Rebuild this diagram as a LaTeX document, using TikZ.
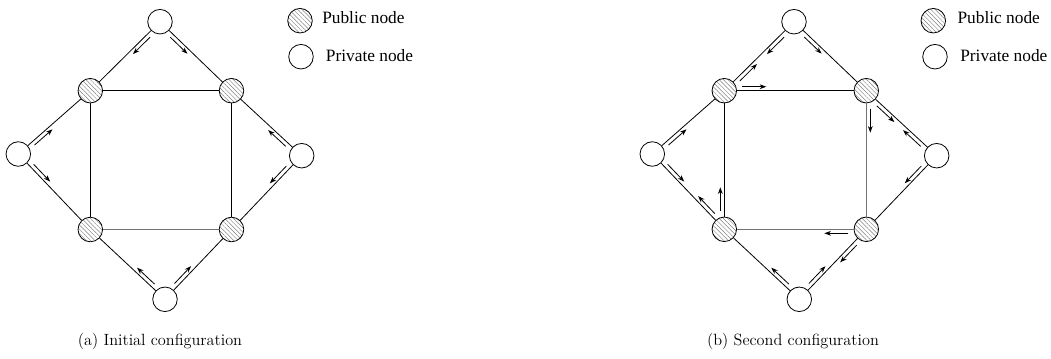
\documentclass[tikz,border=0pt]{standalone}
\usepackage{fontspec}
\newfontfamily\timesf{Liberation Serif}
\usetikzlibrary{calc,arrows.meta,patterns.meta}
\newcommand{\parr}[3]{\draw[arr] ($(#1)!13.5pt!(#2)!3pt!#3:(#2)$) -- ($(#1)!31.5pt!(#2)!3pt!#3:(#2)$);}
\begin{document}
\begin{tikzpicture}[x=0.75pt,y=-0.75pt,
  priv/.style={circle,draw,fill=white,minimum size=18.4pt,inner sep=0pt,line width=0.6pt},
  pub/.style={circle,draw,minimum size=18.4pt,inner sep=0pt,line width=0.6pt,
     pattern={Lines[angle=-45,distance=2.3pt,line width=0.35pt]},pattern color=gray},
  edge/.style={line width=0.6pt},
  gedge/.style={line width=1pt,draw=black!55},
  arr/.style={line width=0.6pt,-{Stealth[length=5pt,width=3.6pt]}},
  legend/.style={anchor=base west,inner sep=0pt,font=\timesf\fontsize{13}{15}\selectfont},
  caption/.style={anchor=base,inner sep=0pt,font=\fontsize{12.2}{14}\selectfont}]
\useasboundingbox (0,0) rectangle (1051,358);
% ---------- panel (a) ----------
\node[priv] (aT) at (160,21.7) {};
\node[pub]  (aA) at (90.3,90.7) {};
\node[pub]  (aB) at (231.5,90.7) {};
\node[priv] (aL) at (18.3,154) {};
\node[priv] (aR) at (301.7,155.7) {};
\node[pub]  (aC) at (90.3,229.5) {};
\node[pub]  (aD) at (231.5,229.5) {};
\node[priv] (aM) at (165,299.3) {};
\draw[edge] (aT) -- (aA);
\draw[edge] (aT) -- (aB);
\draw[edge] (aA) -- (aB);
\draw[edge] (aA) -- (aC);
\draw[edge] (aB) -- (aD);
\draw[gedge] (aC) -- (aD);
\draw[edge] (aL) -- (aA);
\draw[edge] (aL) -- (aC);
\draw[edge] (aR) -- (aB);
\draw[edge] (aR) -- (aD);
\draw[edge] (aM) -- (aC);
\draw[edge] (aM) -- (aD);
\parr{aT}{aA}{90}
\parr{aT}{aB}{-90}
\parr{aL}{aA}{-90}
\parr{aL}{aC}{90}
\parr{aR}{aB}{90}
\parr{aR}{aD}{-90}
\parr{aM}{aC}{-90}
\parr{aM}{aD}{90}
\node[pub]  (aLP) at (300,20.7) {};
\node[priv] (aLQ) at (301,56.7) {};
\node[legend] (aLPt) at (322,23) {Public node};
\node[legend] (aLQt) at (325.7,61.5) {Private node};
\node[caption] (capa) at (160,345) {(a) Initial configuration};
% ---------- panel (b) ----------
\node[priv] (bT) at (794,21.7) {};
\node[pub]  (bA) at (724.3,90.7) {};
\node[pub]  (bB) at (866.3,90.7) {};
\node[priv] (bL) at (652.3,154) {};
\node[priv] (bR) at (936.7,155.7) {};
\node[pub]  (bC) at (724.3,229.3) {};
\node[pub]  (bD) at (866.3,229.3) {};
\node[priv] (bM) at (799.3,299.3) {};
\draw[edge] (bT) -- (bA);
\draw[edge] (bT) -- (bB);
\draw[edge] (bA) -- (bB);
\draw[edge] (bA) -- (bC);
\draw[gedge] (bB) -- (bD);
\draw[gedge] (bC) -- (bD);
\draw[edge] (bL) -- (bA);
\draw[edge] (bL) -- (bC);
\draw[edge] (bR) -- (bB);
\draw[edge] (bR) -- (bD);
\draw[edge] (bM) -- (bC);
\draw[edge] (bM) -- (bD);
\parr{bT}{bA}{90}
\parr{bA}{bT}{-90}
\parr{bT}{bB}{-90}
\parr{bA}{bB}{90}
\parr{bB}{bD}{90}
\parr{bB}{bR}{-90}
\parr{bR}{bB}{90}
\parr{bR}{bD}{-90}
\parr{bD}{bC}{90}
\parr{bD}{bM}{90}
\parr{bM}{bD}{90}
\parr{bM}{bC}{-90}
\parr{bC}{bA}{90}
\parr{bC}{bL}{-90}
\parr{bL}{bC}{90}
\parr{bL}{bA}{-90}
\node[pub]  (bLP) at (933.3,20.7) {};
\node[priv] (bLQ) at (935,56.7) {};
\node[legend] (bLPt) at (957.3,23) {Public node};
\node[legend] (bLQt) at (960,61.5) {Private node};
\node[caption] (capb) at (793,345) {(b) Second configuration};
\end{tikzpicture}
\end{document}
